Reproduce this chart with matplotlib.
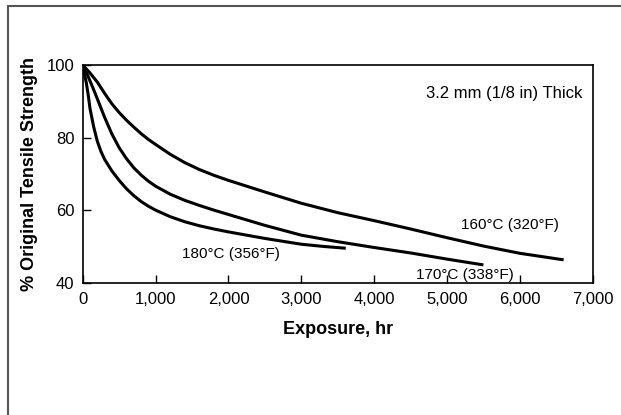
import matplotlib
matplotlib.use("Agg")
import matplotlib.pyplot as plt
from matplotlib.patches import Rectangle
from matplotlib.ticker import FuncFormatter

plt.rcParams["font.family"] = ["Liberation Sans", "DejaVu Sans"]

# curves (hours, % original tensile strength)
hr_160 = [0, 100, 200, 300, 400, 500, 600, 700, 800, 900, 1000, 1200, 1400, 1600, 1800,
          2000, 2500, 3000, 3500, 4000, 4500, 5000, 5500, 6000, 6600]
ts_160 = [100, 97.8, 95.3, 92.2, 89.3, 86.9, 84.8, 82.9, 81.1, 79.5, 78.1, 75.4, 73.1, 71.2, 69.6,
          68.2, 65.0, 61.9, 59.3, 57.1, 54.8, 52.4, 50.1, 48.1, 46.3]

hr_170 = [0, 50, 100, 150, 200, 300, 400, 500, 600, 700, 800, 900, 1000, 1200, 1400, 1600,
          1800, 2000, 2500, 3000, 3500, 4000, 4500, 5000, 5500]
ts_170 = [100, 98.0, 95.6, 93.2, 90.7, 85.6, 81.0, 77.2, 74.2, 71.7, 69.7, 68.0, 66.6, 64.4, 62.7, 61.3,
          60.0, 58.8, 55.8, 53.1, 51.3, 49.7, 48.2, 46.5, 44.9]

hr_180 = [0, 25, 50, 75, 100, 150, 200, 250, 300, 400, 500, 600, 700, 800, 900, 1000, 1200,
          1400, 1600, 1800, 2000, 2500, 3000, 3300, 3610]
ts_180 = [100, 97.5, 95.0, 91.8, 88.0, 83.0, 79.0, 76.2, 74.0, 70.8, 68.2, 65.9, 64.0, 62.4, 61.1, 60.0, 58.2,
          56.8, 55.7, 54.8, 54.0, 52.2, 50.6, 50.0, 49.5]

x_ticks = [0, 1000, 2000, 3000, 4000, 5000, 6000, 7000]
y_ticks = [40, 60, 80, 100]

fig = plt.figure(figsize=(6.21, 4.15), dpi=100)
ax = fig.add_axes([0.1332, 0.3188, 0.8213, 0.5246])

for hr, ts in [(hr_160, ts_160), (hr_170, ts_170), (hr_180, ts_180)]:
    ax.plot(hr, ts, color="black", lw=2.2, solid_capstyle="butt", solid_joinstyle="round")

ax.set_xlim(0, 7000)
ax.set_ylim(40, 100)
ax.set_xticks(x_ticks)
ax.set_yticks(y_ticks)
ax.xaxis.set_major_formatter(FuncFormatter(lambda v, p: f"{v:,.0f}"))
ax.tick_params(direction="in", length=5.5, width=1, labelsize=12)
ax.tick_params(axis="x", pad=7)
ax.tick_params(axis="y", pad=6)
for s in ax.spines.values():
    s.set_linewidth(1.2)

ax.set_xlabel("Exposure, hr", fontsize=13, fontweight="bold", labelpad=10)
ax.set_ylabel("% Original Tensile Strength", fontsize=13, fontweight="bold", labelpad=6)

ax.text(6863, 90.8, "3.2 mm (1/8 in) Thick", fontsize=12, ha="right", va="baseline")
ax.text(5192, 54.9, "160°C (320°F)", fontsize=11, ha="left", va="baseline")
ax.text(4570, 40.9, "170°C (338°F)", fontsize=11, ha="left", va="baseline")
ax.text(1359, 46.7, "180°C (356°F)", fontsize=11, ha="left", va="baseline")

# outer frame, cut off at the right and bottom edges like the original
fig.add_artist(Rectangle((8 / 621, -0.1), 1.2, 1.1 - 6 / 415, transform=fig.transFigure,
                         fill=False, edgecolor="#555555", lw=1.5, clip_on=False))

plt.savefig("out.png", dpi=100)
plt.close()
